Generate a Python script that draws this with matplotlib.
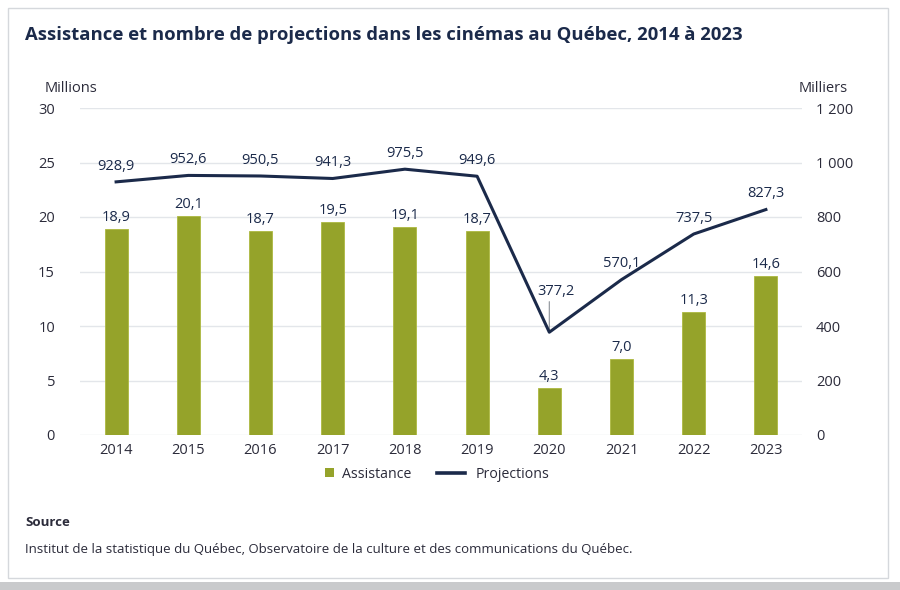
import matplotlib
matplotlib.use("Agg")
import matplotlib.pyplot as plt
from matplotlib.patches import Rectangle
from matplotlib.lines import Line2D

years = ["2014", "2015", "2016", "2017", "2018", "2019", "2020", "2021", "2022", "2023"]
assistance = [18.9, 20.1, 18.7, 19.5, 19.1, 18.7, 4.3, 7.0, 11.3, 14.6]
projections = [928.9, 952.6, 950.5, 941.3, 975.5, 949.6, 377.2, 570.1, 737.5, 827.3]
left_ticks = [0, 5, 10, 15, 20, 25, 30]
right_ticks = [0, 200, 400, 600, 800, 1000, 1200]
right_tick_labels = ["0", "200", "400", "600", "800", "1 000", "1 200"]

plt.rcParams['font.family'] = ['Open Sans', 'DejaVu Sans']
NAVY = "#1b2a4a"
OLIVE = "#95a32a"
TXT = "#2b2b3a"

def fr(v):
    return f"{v:,.1f}".replace(",", " ").replace(".", ",")

fig = plt.figure(figsize=(9, 5.9), dpi=100)
W, H = 900, 590

# outer frame
fig.patches.append(Rectangle((8 / W, 1 - 578 / H), 880 / W, 570 / H, transform=fig.transFigure,
                             facecolor="none", edgecolor="#d5d8dc", lw=1.0, zorder=-10))
fig.patches.append(Rectangle((0, 0), 1, 8 / H, transform=fig.transFigure,
                             facecolor="#c9cacc", edgecolor="none", zorder=-10))

ax = fig.add_axes([80 / W, 1 - 435 / H, 722 / W, 327 / H])
ax.set_facecolor("none")
x = list(range(len(years)))
ax.bar(x, assistance, width=0.32, color=OLIVE, edgecolor="#adb940", lw=0.6, zorder=3)
ax.set_xlim(-0.5, len(years) - 0.5)
ax.set_ylim(0, 30)
ax.set_yticks(left_ticks)
ax.set_yticklabels([str(t) for t in left_ticks])
ax.set_xticks(x)
ax.set_xticklabels(years)
for s in ax.spines.values():
    s.set_visible(False)
ax.set_axisbelow(True)
ax.grid(axis="y", color="#e3e6ea", lw=1.0, zorder=0)
ax.tick_params(axis="both", length=0, labelsize=10.5, colors=TXT)
ax.tick_params(axis="y", pad=18)
ax.tick_params(axis="x", pad=6)
for i, v in enumerate(assistance):
    ax.annotate(fr(v), (i, v), xytext=(0, 3), textcoords="offset points",
                ha="center", va="bottom", fontsize=10.5, color=NAVY, zorder=5)

ax2 = ax.twinx()
ax2.set_ylim(0, 1200)
ax2.set_yticks(right_ticks)
ax2.set_yticklabels(right_tick_labels)
for s in ax2.spines.values():
    s.set_visible(False)
ax2.tick_params(axis="y", length=0, labelsize=10.5, colors=TXT, pad=10)
ax2.plot(x, projections, color=NAVY, lw=2.2, zorder=4)
for i, v in enumerate(projections):
    if years[i] == "2020":
        ax2.annotate("", xy=(i, v), xytext=(0, 22), textcoords="offset points",
                     arrowprops=dict(arrowstyle="-", color="#8a8f96", lw=0.8,
                                     shrinkA=0, shrinkB=1))
        ax2.annotate(fr(v), (i, v), xytext=(5, 24), textcoords="offset points",
                     ha="center", va="bottom", fontsize=10.5, color=NAVY)
    else:
        ax2.annotate(fr(v), (i, v), xytext=(0, 6), textcoords="offset points",
                     ha="center", va="bottom", fontsize=10.5, color=NAVY)

fig.text(25 / W, 1 - 35 / H, "Assistance et nombre de projections dans les cinémas au Québec, 2014 à 2023",
         fontsize=13.3, fontweight="bold", color=NAVY, va="center", ha="left")
fig.text(45 / W, 1 - 89 / H, "Millions", fontsize=10.5, color=TXT, va="center", ha="left")
fig.text(848 / W, 1 - 89 / H, "Milliers", fontsize=10.5, color=TXT, va="center", ha="right")

leg_y = 1 - 474 / H
fig.legend([Rectangle((0, 0), 1, 1, facecolor=OLIVE, edgecolor="none")], ["Assistance"],
           loc="center left", bbox_to_anchor=(325 / W, leg_y), frameon=False, fontsize=10.2,
           handlelength=0.65, handleheight=0.65, handletextpad=0.55, borderpad=0,
           borderaxespad=0, labelcolor=TXT)
fig.legend([Line2D([0], [0], color=NAVY, lw=2.6)], ["Projections"],
           loc="center left", bbox_to_anchor=(437 / W, leg_y), frameon=False, fontsize=10.2,
           handlelength=2.0, handletextpad=0.75, borderpad=0, borderaxespad=0, labelcolor=TXT)

fig.text(25 / W, 1 - 523 / H, "Source", fontsize=9.5, fontweight="bold", color=TXT, va="center", ha="left")
fig.text(25 / W, 1 - 549 / H,
         "Institut de la statistique du Québec, Observatoire de la culture et des communications du Québec.",
         fontsize=9.5, color=TXT, va="center", ha="left")

fig.savefig("out.png", dpi=100)
